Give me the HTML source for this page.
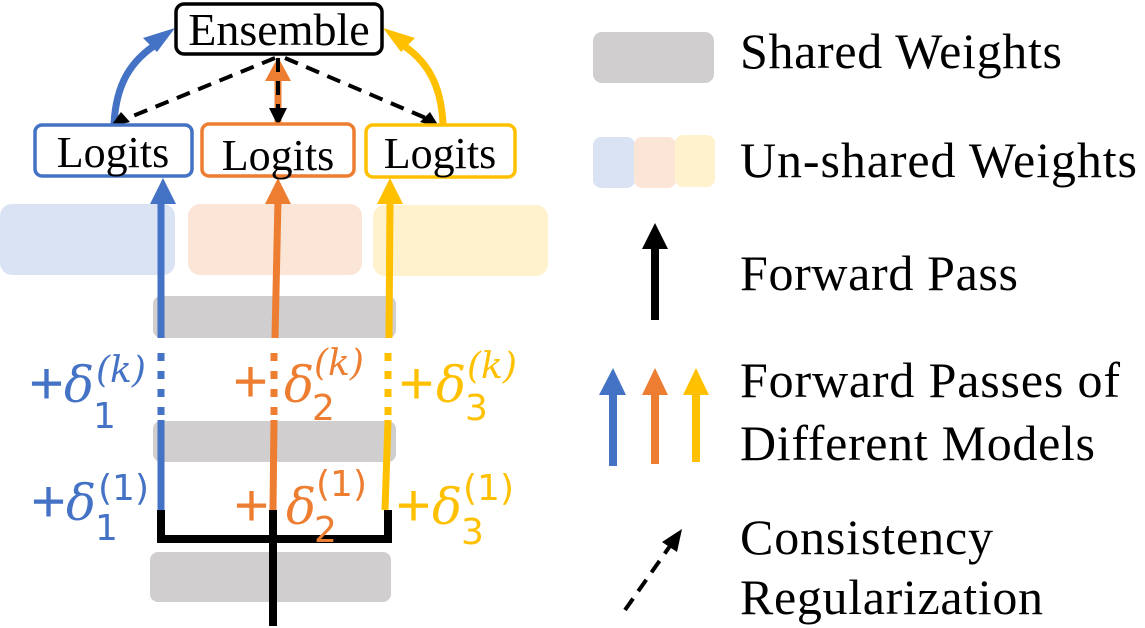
<!DOCTYPE html>
<html><head><meta charset="utf-8"><style>
html,body{margin:0;padding:0;background:#fff;}
svg{display:block;}
.t{font-family:"Liberation Serif",serif;font-size:50px;fill:#000;}
.m{font-family:"DejaVu Serif","Liberation Serif",serif;font-style:italic;}
.d{font-family:"DejaVu Sans","Liberation Sans",sans-serif;}
.p{font-family:"Liberation Sans",sans-serif;}
</style></head><body>
<svg width="1145" height="628" viewBox="0 0 1145 628" xmlns="http://www.w3.org/2000/svg">
<rect x="0" y="204" width="175" height="71" rx="12" fill="#dae3f3"/>
<rect x="188" y="204" width="174" height="71" rx="12" fill="#fbe5d6"/>
<rect x="373" y="205" width="175" height="71" rx="12" fill="#fff2cc"/>
<rect x="153" y="296" width="243" height="42" rx="8" fill="#d0cece"/>
<rect x="153" y="421" width="243" height="41" rx="8" fill="#d0cece"/>
<rect x="150" y="552" width="241" height="50" rx="8" fill="#d0cece"/>
<path d="M161,510 V539 H388 V510" fill="none" stroke="#000" stroke-width="8"/>
<line x1="273" y1="510" x2="273" y2="626" stroke="#000" stroke-width="8"/>
<line x1="161" y1="510" x2="161" y2="420" stroke="#4472c4" stroke-width="7"/>
<line x1="161" y1="415" x2="161" y2="350" stroke="#4472c4" stroke-width="7" stroke-dasharray="8,10"/>
<line x1="161" y1="338" x2="161" y2="200" stroke="#4472c4" stroke-width="7"/>
<polygon points="150,204 176,204 163,178" fill="#4472c4"/>
<line x1="273" y1="510" x2="274" y2="420" stroke="#ed7d31" stroke-width="7"/>
<line x1="274" y1="415" x2="274" y2="350" stroke="#ed7d31" stroke-width="7" stroke-dasharray="8,10"/>
<line x1="275" y1="338" x2="278" y2="200" stroke="#ed7d31" stroke-width="7"/>
<polygon points="265,204 291,204 278,178" fill="#ed7d31"/>
<line x1="385" y1="510" x2="388" y2="420" stroke="#ffc000" stroke-width="7"/>
<line x1="388" y1="415" x2="388" y2="350" stroke="#ffc000" stroke-width="7" stroke-dasharray="8,10"/>
<line x1="389" y1="338" x2="390" y2="200" stroke="#ffc000" stroke-width="7"/>
<polygon points="377,204 403,204 390,178" fill="#ffc000"/>
<path d="M114,124 C116,85 130,60 160,42" fill="none" stroke="#4472c4" stroke-width="7"/>
<polygon points="175,28 143,38 157,52" fill="#4472c4"/>
<path d="M443,124 C441,85 428,60 398,42" fill="none" stroke="#ffc000" stroke-width="7"/>
<polygon points="383,28 415,38 401,52" fill="#ffc000"/>
<line x1="278" y1="122" x2="278" y2="75" stroke="#ed7d31" stroke-width="7"/>
<polygon points="265,81 291,81 278,57" fill="#ed7d31"/>
<g stroke="#000" stroke-width="4" stroke-dasharray="14,9" fill="none">
<line x1="275" y1="58" x2="128" y2="118"/>
<line x1="278" y1="58" x2="278" y2="112"/>
<line x1="285" y1="58" x2="428" y2="119"/>
</g>
<polygon points="269,108 287,108 278,126" fill="#000"/>
<polygon points="440,128 420,122 430,112" fill="#000"/>
<polygon points="110,127 130,122 121,112" fill="#000"/>
<rect x="176" y="4" width="206" height="50" rx="8" fill="#fff" stroke="#000" stroke-width="3.5"/>
<text x="279" y="45" class="t" text-anchor="middle" style="font-size:46px">Ensemble</text>
<rect x="35" y="125" width="157" height="51" rx="7" fill="#fff" stroke="#4472c4" stroke-width="3.5"/>
<text x="113" y="167" class="t" text-anchor="middle" style="font-size:44px">Logits</text>
<rect x="202" y="124" width="152" height="52" rx="7" fill="#fff" stroke="#ed7d31" stroke-width="3.5"/>
<text x="278" y="170" class="t" text-anchor="middle" style="font-size:44px">Logits</text>
<rect x="366" y="125" width="149" height="52" rx="7" fill="#fff" stroke="#ffc000" stroke-width="3.5"/>
<text x="440" y="168" class="t" text-anchor="middle" style="font-size:44px">Logits</text>
<g fill="#4472c4">
<text x="29" y="404" class="p" font-size="60">+</text>
<text x="64" y="402" class="m" font-size="50">δ</text>
<text x="93" y="428" class="d" font-size="36">1</text>
<text x="96" y="382" class="m" font-size="36">(k)</text>
<text x="31" y="522" class="p" font-size="60">+</text>
<text x="66" y="520" class="m" font-size="50">δ</text>
<text x="95" y="540" class="d" font-size="36">1</text>
<text x="98" y="500" class="d" font-size="36">(1)</text>
</g>
<g fill="#ed7d31">
<text x="233" y="402" class="p" font-size="60">+</text>
<text x="284" y="402" class="m" font-size="50">δ</text>
<text x="312" y="420" class="d" font-size="36">2</text>
<text x="314" y="375" class="m" font-size="36">(k)</text>
<text x="234" y="526" class="p" font-size="60">+</text>
<text x="286" y="524" class="m" font-size="50">δ</text>
<text x="314" y="542" class="d" font-size="36">2</text>
<text x="316" y="496" class="d" font-size="36">(1)</text>
</g>
<g fill="#ffc000">
<text x="399" y="404" class="p" font-size="60">+</text>
<text x="436" y="402" class="m" font-size="50">δ</text>
<text x="465" y="420" class="d" font-size="36">3</text>
<text x="467" y="378" class="m" font-size="36">(k)</text>
<text x="396" y="526" class="p" font-size="60">+</text>
<text x="432" y="524" class="m" font-size="50">δ</text>
<text x="461" y="544" class="d" font-size="36">3</text>
<text x="463" y="500" class="d" font-size="36">(1)</text>
</g>
<rect x="593" y="32" width="121" height="51" rx="9" fill="#d0cece"/>
<text x="740" y="68" class="t" textLength="322">Shared Weights</text>
<rect x="593" y="137" width="42" height="51" rx="8" fill="#dae3f3"/>
<rect x="634" y="137" width="42" height="51" rx="8" fill="#fbe5d6"/>
<rect x="675" y="135" width="40" height="52" rx="8" fill="#fff2cc"/>
<text x="740" y="177" class="t" textLength="397">Un-shared Weights</text>
<line x1="655" y1="320" x2="655" y2="245" stroke="#000" stroke-width="8"/>
<polygon points="642,249 668,249 655,223" fill="#000"/>
<text x="740" y="290" class="t" textLength="278">Forward Pass</text>
<line x1="613" y1="466" x2="613" y2="392" stroke="#4472c4" stroke-width="8"/>
<polygon points="599,395 626,395 613,368" fill="#4472c4"/>
<line x1="655" y1="464" x2="655" y2="392" stroke="#ed7d31" stroke-width="8"/>
<polygon points="642,395 668,395 655,368" fill="#ed7d31"/>
<line x1="696" y1="462" x2="696" y2="392" stroke="#ffc000" stroke-width="8"/>
<polygon points="683,395 709,395 696,368" fill="#ffc000"/>
<text x="740" y="397" class="t" textLength="380">Forward Passes of</text>
<text x="740" y="460" class="t" textLength="355">Different Models</text>
<line x1="625" y1="610" x2="670" y2="546" stroke="#000" stroke-width="4" stroke-dasharray="14,9"/>
<polygon points="682,529 662,542 677,552" fill="#000"/>
<text x="740" y="554" class="t" textLength="253">Consistency</text>
<text x="740" y="614" class="t" textLength="303">Regularization</text>
</svg>
</body></html>
